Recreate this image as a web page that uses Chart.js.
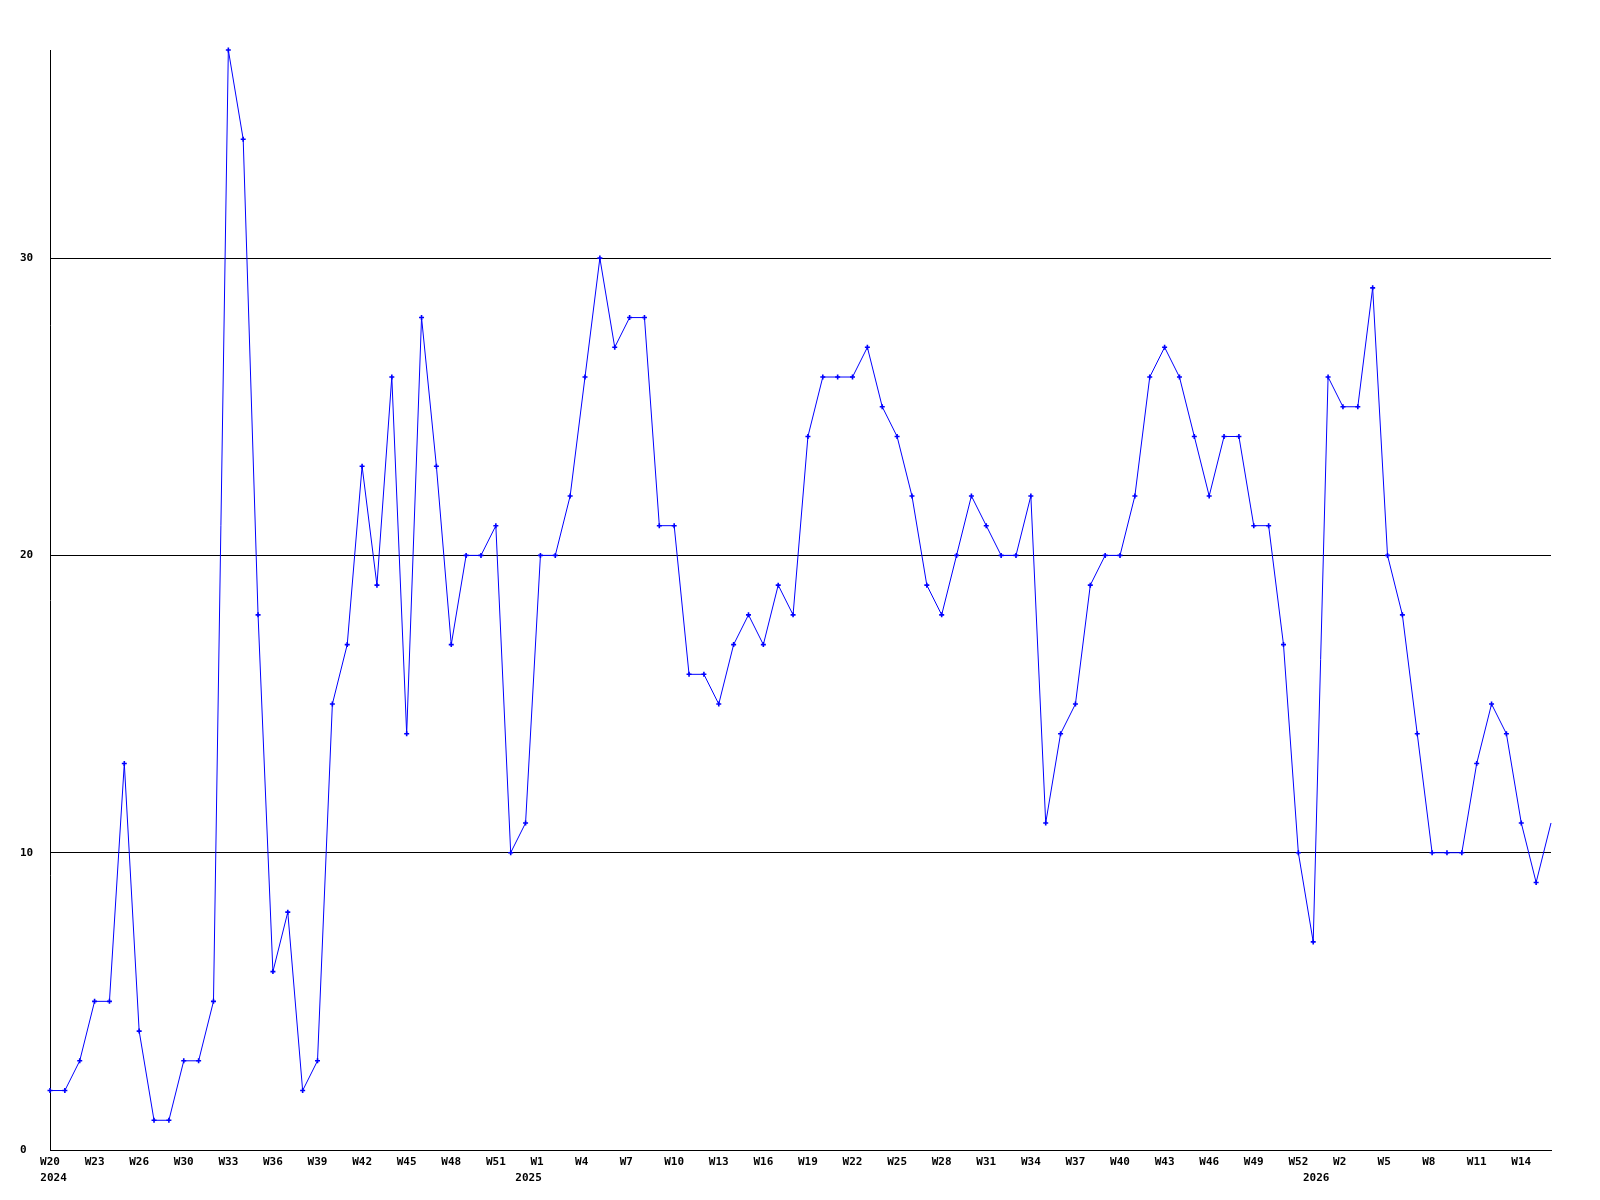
<!DOCTYPE html>
<html>
<head>
<meta charset="utf-8">
<title>Weekly count</title>
<script src="https://cdn.jsdelivr.net/npm/chart.js@4/dist/chart.umd.min.js"></script>
<style>
  html, body { margin: 0; padding: 0; background: #ffffff; }
  #wrap { width: 1600px; height: 1200px; }
</style>
</head>
<body>
<div id="wrap"><canvas id="weekly" width="1600" height="1200"></canvas></div>
<script>
// one point per week, W20 2024 .. W16 2026
const weeks = [
  'W20', 'W21', 'W22', 'W23', 'W24', 'W25', 'W26', 'W27', 'W28', 'W30',
  'W31', 'W32', 'W33', 'W34', 'W35', 'W36', 'W37', 'W38', 'W39', 'W40',
  'W41', 'W42', 'W43', 'W44', 'W45', 'W46', 'W47', 'W48', 'W49', 'W50',
  'W51', 'W52', 'W53', 'W1', 'W2', 'W3', 'W4', 'W5', 'W6', 'W7',
  'W8', 'W9', 'W10', 'W11', 'W12', 'W13', 'W14', 'W15', 'W16', 'W17',
  'W18', 'W19', 'W20', 'W21', 'W22', 'W23', 'W24', 'W25', 'W26', 'W27',
  'W28', 'W29', 'W30', 'W31', 'W32', 'W33', 'W34', 'W35', 'W36', 'W37',
  'W38', 'W39', 'W40', 'W41', 'W42', 'W43', 'W44', 'W45', 'W46', 'W47',
  'W48', 'W49', 'W50', 'W51', 'W52', 'W53', 'W1', 'W2', 'W3', 'W4',
  'W5', 'W6', 'W7', 'W8', 'W9', 'W10', 'W11', 'W12', 'W13', 'W14',
  'W15', 'W16'
];

const counts = [
  2, 2, 3, 5, 5, 13, 4, 1, 1, 3,
  3, 5, 37, 34, 18, 6, 8, 2, 3, 15,
  17, 23, 19, 26, 14, 28, 23, 17, 20, 20,
  21, 10, 11, 20, 20, 22, 26, 30, 27, 28,
  28, 21, 21, 16, 16, 15, 17, 18, 17, 19,
  18, 24, 26, 26, 26, 27, 25, 24, 22, 19,
  18, 20, 22, 21, 20, 20, 22, 11, 14, 15,
  19, 20, 20, 22, 26, 27, 26, 24, 22, 24,
  24, 21, 21, 17, 10, 7, 26, 25, 25, 29,
  20, 18, 14, 10, 10, 10, 13, 15, 14, 11,
  9, 11
];

const yTicks = [0, 10, 20, 30];

// year names, placed where Jan 1 falls between the weekly points
const years = ['2024', '2025', '2026'];
const yearAt = [0.24, 32.2, 85.2];

const labelFont = { family: 'DejaVu Sans Mono', size: 11, weight: 'bold' };

const yearLabels = {
  id: 'yearLabels',
  afterDraw(chart) {
    const ctx = chart.ctx;
    const x = chart.scales.x;
    ctx.save();
    ctx.font = 'bold 11px "DejaVu Sans Mono"';
    ctx.fillStyle = '#000000';
    ctx.textAlign = 'center';
    ctx.textBaseline = 'middle';
    years.forEach((y, i) => {
      ctx.fillText(y, x.getPixelForValue(yearAt[i]), x.bottom - 22);
    });
    ctx.restore();
  }
};

function prepareConfig() {
  return {
    type: 'line',
    data: {
      labels: weeks,
      datasets: [{
        data: counts,
        borderColor: '#0000ff',
        backgroundColor: '#0000ff',
        borderWidth: 1,
        tension: 0,
        fill: false,
        clip: false,
        pointStyle: 'cross',
        pointRadius: c => c.dataIndex === counts.length - 1 ? 0 : 2.5,
        pointBorderWidth: 1.6,
        pointBorderColor: '#0000ff'
      }]
    },
    options: {
      responsive: false,
      animation: false,
      events: [],
      layout: { padding: { left: 20, top: 50, right: 49, bottom: 0 } },
      plugins: {
        legend: { display: false },
        tooltip: { enabled: false },
        title: { display: false }
      },
      scales: {
        x: {
          type: 'category',
          offset: false,
          grid: { display: false, drawTicks: false },
          border: { display: true, color: '#000000', width: 1 },
          ticks: {
            autoSkip: false,
            maxRotation: 0,
            minRotation: 0,
            padding: 6,
            color: '#000000',
            font: labelFont,
            callback: (v, i) => i % 3 === 0 ? weeks[i].padEnd(3) : ''
          },
          afterFit: s => { s.height = 50; }
        },
        y: {
          min: 0,
          max: 37,
          grid: { color: '#000000', lineWidth: 1, drawTicks: false },
          border: { display: true, color: '#000000', width: 1 },
          ticks: {
            stepSize: 10,
            includeBounds: false,
            crossAlign: 'far',
            color: '#000000',
            font: labelFont
          },
          afterBuildTicks: s => { s.ticks = yTicks.map(v => ({ value: v })); },
          afterFit: s => { s.width = 30; }
        }
      }
    },
    plugins: [yearLabels]
  };
}

new Chart(document.getElementById('weekly'), prepareConfig());
</script>
</body>
</html>
